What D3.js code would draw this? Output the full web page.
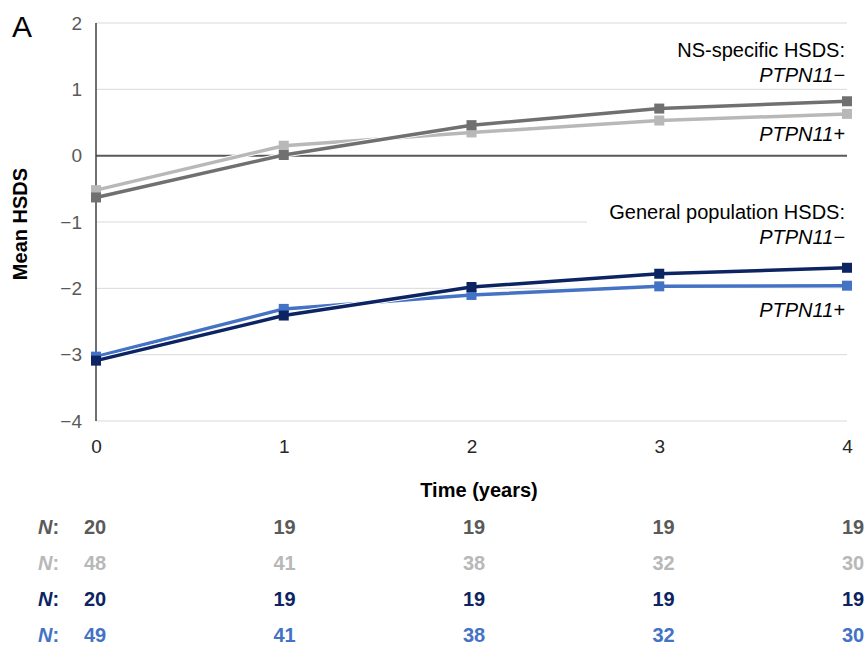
<!DOCTYPE html>
<html>
<head>
<meta charset="utf-8">
<script src="https://cdn.jsdelivr.net/npm/d3@7"></script>
<style>
  html, body { margin: 0; padding: 0; background: #fff; }
  svg { display: block; font-family: "Liberation Sans", Arial, sans-serif; }
</style>
</head>
<body>
<svg id="chart" width="865" height="645"></svg>
<script>
// ---------- DATA ----------
const years = [0, 1, 2, 3, 4];
const yTicks = [2, 1, 0, -1, -2, -3, -4];

// mean HSDS per year
const nsMinus  = [-0.63, 0.01, 0.46, 0.71, 0.82];
const nsPlus   = [-0.52, 0.15, 0.35, 0.53, 0.63];
const genMinus = [-3.09, -2.41, -1.98, -1.78, -1.69];
const genPlus  = [-3.03, -2.31, -2.10, -1.97, -1.96];

// patients at each year
const nNsMinus  = [20, 19, 19, 19, 19];
const nNsPlus   = [48, 41, 38, 32, 30];
const nGenMinus = [20, 19, 19, 19, 19];
const nGenPlus  = [49, 41, 38, 32, 30];

// ---------- STYLE ----------
const C_NS_MINUS = "#707070";
const C_NS_PLUS = "#b8b8b8";
const C_GEN_MINUS = "#0d2463";
const C_GEN_PLUS = "#4472c4";

const svg = d3.select("#chart");
const x = d3.scaleLinear().domain([0, 4]).range([96, 847]);
const y = d3.scaleLinear().domain([-4, 2]).range([421, 23]);
const xTable = d3.scaleLinear().domain([0, 4]).range([95, 853]);

// gridlines
svg.append("g").selectAll("line")
  .data(yTicks.filter(d => d !== 0))
  .join("line")
  .attr("x1", x(0)).attr("x2", x(4))
  .attr("y1", d => y(d)).attr("y2", d => y(d))
  .attr("stroke", "#d9d9d9").attr("stroke-width", 1);

// white box behind the lower label (cuts the -1 gridline)
svg.append("rect")
  .attr("x", 587).attr("y", 200).attr("width", 262).attr("height", 50)
  .attr("fill", "#fff");

// zero line
svg.append("line")
  .attr("x1", x(0)).attr("x2", x(4))
  .attr("y1", y(0)).attr("y2", y(0))
  .attr("stroke", "#595959").attr("stroke-width", 2);

// y axis
const yAxis = svg.append("g")
  .attr("transform", `translate(${x(0)},0)`)
  .call(d3.axisLeft(y).tickValues(yTicks).tickSize(0).tickPadding(14).tickFormat(d3.format("d")));
yAxis.select(".domain").remove();
yAxis.selectAll("text").attr("font-size", 19).attr("fill", "#595959").attr("font-family", null);
svg.append("line")
  .attr("x1", x(0)).attr("x2", x(0))
  .attr("y1", y(2)).attr("y2", y(-4))
  .attr("stroke", "#404040").attr("stroke-width", 1.5);

// x axis
const xAxis = svg.append("g")
  .attr("transform", `translate(0,${y(-4)})`)
  .call(d3.axisBottom(x).tickValues(years).tickSize(0).tickFormat(d3.format("d")));
xAxis.select(".domain").remove();
xAxis.selectAll("text")
  .attr("y", 32).attr("dy", 0)
  .attr("font-size", 19).attr("fill", "#262626").attr("font-family", null);

// axis titles
svg.append("text")
  .attr("transform", "translate(27,224) rotate(-90)")
  .attr("text-anchor", "middle")
  .attr("font-size", 20).attr("font-weight", "bold").attr("fill", "#000")
  .text("Mean HSDS");
svg.append("text")
  .attr("x", 479).attr("y", 497)
  .attr("text-anchor", "middle")
  .attr("font-size", 20).attr("font-weight", "bold").attr("fill", "#000")
  .text("Time (years)");

// panel letter
svg.append("text")
  .attr("x", 12).attr("y", 37)
  .attr("font-size", 30).attr("fill", "#000")
  .text("A");

// series
const series = [
  { values: nsPlus, color: C_NS_PLUS },
  { values: nsMinus, color: C_NS_MINUS },
  { values: genPlus, color: C_GEN_PLUS },
  { values: genMinus, color: C_GEN_MINUS }
];
const line = d3.line().x((d, i) => x(years[i])).y(d => y(d));
const ms = 10;
series.forEach(s => {
  const g = svg.append("g");
  g.append("path")
    .attr("d", line(s.values))
    .attr("fill", "none")
    .attr("stroke", "#fff").attr("stroke-width", 5.5)
    .attr("stroke-linejoin", "round");
  g.append("path")
    .attr("d", line(s.values))
    .attr("fill", "none")
    .attr("stroke", s.color).attr("stroke-width", 3.5)
    .attr("stroke-linejoin", "round");
  g.selectAll("rect")
    .data(s.values)
    .join("rect")
    .attr("x", (d, i) => x(years[i]) - ms / 2)
    .attr("y", d => y(d) - ms / 2)
    .attr("width", ms).attr("height", ms)
    .attr("fill", s.color);
});

// labels
function label(yPos, txt, italic) {
  svg.append("text")
    .attr("x", 845).attr("y", yPos)
    .attr("text-anchor", "end")
    .attr("font-size", 20).attr("fill", "#000")
    .attr("font-style", italic ? "italic" : "normal")
    .text(txt);
}
label(57, "NS-specific HSDS:", false);
label(82, "PTPN11\u2212", true);
label(141, "PTPN11+", true);
label(219, "General population HSDS:", false);
label(244, "PTPN11\u2212", true);
label(317, "PTPN11+", true);

// N table
const rows = [
  { n: nNsMinus, color: "#5a5a5a", y: 534 },
  { n: nNsPlus, color: "#b8b8b8", y: 570 },
  { n: nGenMinus, color: C_GEN_MINUS, y: 606 },
  { n: nGenPlus, color: C_GEN_PLUS, y: 642 }
];
rows.forEach(r => {
  const t = svg.append("text")
    .attr("x", 38).attr("y", r.y)
    .attr("font-size", 20).attr("font-weight", "bold").attr("fill", r.color);
  t.append("tspan").attr("font-style", "italic").text("N");
  t.append("tspan").text(":");
  svg.append("g").selectAll("text")
    .data(r.n)
    .join("text")
    .attr("x", (d, i) => xTable(years[i]))
    .attr("y", r.y)
    .attr("text-anchor", "middle")
    .attr("font-size", 20).attr("font-weight", "bold").attr("fill", r.color)
    .text(d => d);
});
</script>
</body>
</html>
